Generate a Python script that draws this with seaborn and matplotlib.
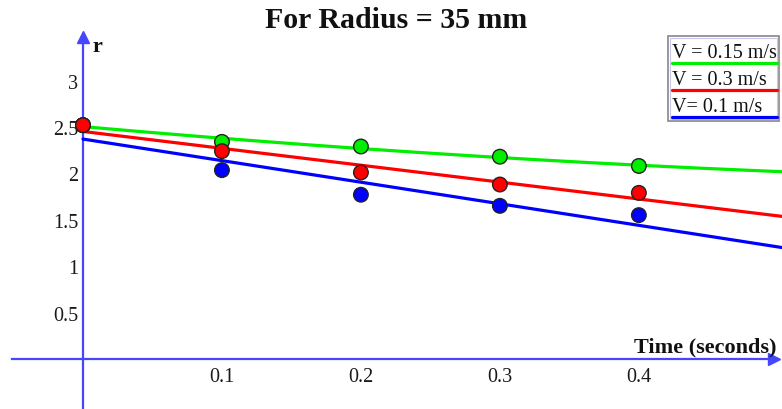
import numpy as np
import pandas as pd
import matplotlib
matplotlib.use("Agg")
import matplotlib.pyplot as plt
from matplotlib.patches import Rectangle
from matplotlib.lines import Line2D
import seaborn as sns

# Measured radius r at each sampling time, one series per velocity
time = [0.0, 0.1, 0.2, 0.3, 0.4]
r_v015 = [2.52, 2.34, 2.29, 2.18, 2.08]
r_v03 = [2.52, 2.24, 2.01, 1.88, 1.79]
r_v01 = [2.52, 2.035, 1.77, 1.65, 1.55]

labels = ["V = 0.15 m/s", "V = 0.3 m/s", "V= 0.1 m/s"]
colors = ["#00ee00", "#ff0000", "#0000ff"]
fit_order = [2, 1, 1]
x_ticks = [0.1, 0.2, 0.3, 0.4]
y_ticks = [0.5, 1, 1.5, 2, 2.5, 3]

sns.set_theme(style="white")
plt.rcParams["font.family"] = ["Liberation Serif", "DejaVu Serif"]

W, H = 782, 410
fig = plt.figure(figsize=(W / 100, H / 100), dpi=100)
ax = fig.add_axes([0, 0, 1, 1])
xmin, xmax = -0.0597, 0.503
ymin, ymax = -0.54, 3.88
ax.set_xlim(xmin, xmax)
ax.set_ylim(ymin, ymax)

series = {labels[0]: r_v015, labels[1]: r_v03, labels[2]: r_v01}
palette = dict(zip(labels, colors))

# Fitted trend curves from t = 0 to the right edge
grid = np.linspace(0, xmax, 200)
fit_rows = []
for lab, order in zip(labels, fit_order):
    coef = np.polyfit(time, series[lab], order)
    fit_rows.append(pd.DataFrame({"t": grid, "r": np.polyval(coef, grid), "V": lab}))
fit_df = pd.concat(fit_rows, ignore_index=True)
sns.lineplot(data=fit_df, x="t", y="r", hue="V", palette=palette, linewidth=2.3,
             legend=False, ax=ax, zorder=3)

# Measured points (blue, green, red drawn in that order)
pts = pd.concat([pd.DataFrame({"t": time, "r": series[lab], "V": lab})
                 for lab in [labels[2], labels[0], labels[1]]], ignore_index=True)
sns.scatterplot(data=pts, x="t", y="r", hue="V", palette=palette, s=110,
                edgecolor="#222222", linewidth=1.0, legend=False, ax=ax, zorder=4)

# Axes through the origin
axis_col = "#4646ff"
for s in ["top", "right"]:
    ax.spines[s].set_visible(False)
ax.spines["left"].set_position(("data", 0))
ax.spines["bottom"].set_position(("data", 0))
for s in ["left", "bottom"]:
    ax.spines[s].set_color(axis_col)
    ax.spines[s].set_linewidth(1.6)
ax.spines["left"].set_bounds(ymin, 3.47)
ax.spines["bottom"].set_bounds(-0.051, 0.497)
ax.plot([0], [3.47], marker="^", color=axis_col, markersize=9, clip_on=False, zorder=5)
ax.plot([0.497], [0], marker=">", color=axis_col, markersize=9, clip_on=False, zorder=5)

ax.set_xticks(x_ticks)
ax.set_yticks(y_ticks)
ax.set_xticklabels([f"{v:g}" for v in x_ticks])
ax.set_yticklabels([f"{v:g}" for v in y_ticks])
ax.tick_params(axis="both", direction="inout", length=7, width=1, color=axis_col,
               labelsize=14.5, labelcolor="#1a1a1a")
ax.tick_params(axis="x", pad=2)
ax.tick_params(axis="y", pad=0)
ax.set_xlabel("")
ax.set_ylabel("")
ax.grid(False)


def px(x, y):
    return x / W, 1 - y / H


fig.text(*px(396, 21), "For Radius = 35 mm", ha="center", va="center",
         fontsize=21.5, fontweight="bold", color="#111111")
fig.text(*px(92, 47), "r", ha="left", va="center", fontsize=16,
         fontweight="bold", color="#111111")
fig.text(*px(777, 352), "Time (seconds)", ha="right", va="baseline",
         fontsize=16, fontweight="bold", color="#111111")

# Legend box with each label above its line colour
x0, y0 = px(668, 122)
x1, y1 = px(779, 37)
fig.patches.append(Rectangle((x0, y0), x1 - x0, y1 - y0, transform=fig.transFigure,
                             facecolor="white", edgecolor="#888888", linewidth=1.2,
                             zorder=6))
ix0, iy0 = px(670, 120)
ix1, iy1 = px(777, 39)
fig.patches.append(Rectangle((ix0, iy0), ix1 - ix0, iy1 - iy0, transform=fig.transFigure,
                             facecolor="white", edgecolor="#c8c8f0", linewidth=0.8,
                             zorder=6))
text_base = [58, 85, 112]
line_y = [64, 91, 118]
for lab, col, tb, ly in zip(labels, colors, text_base, line_y):
    fig.text(*px(672, tb), lab, ha="left", va="baseline", fontsize=14.5,
             color="#111111", zorder=7)
    lx0, lyy = px(672, ly)
    lx1, _ = px(777, ly)
    fig.lines.append(Line2D([lx0, lx1], [lyy, lyy], transform=fig.transFigure,
                            color=col, linewidth=2.3, zorder=7))

fig.savefig("out.png", dpi=100)
